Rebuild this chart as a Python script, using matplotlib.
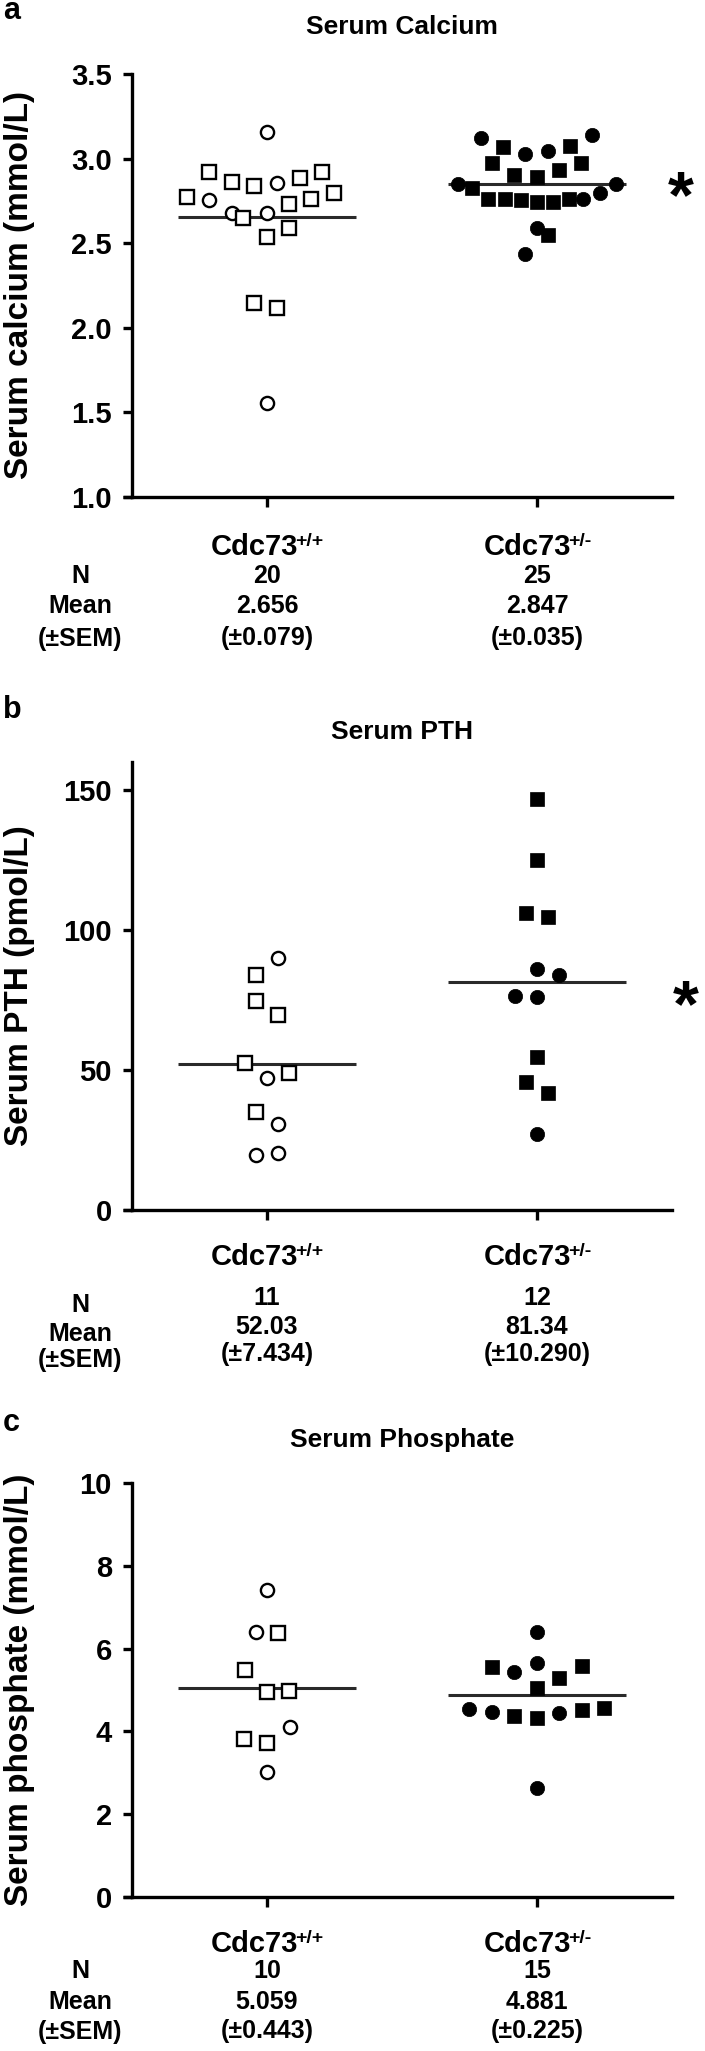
import matplotlib
matplotlib.use('Agg')
import matplotlib.pyplot as plt
import numpy as np

W, H = 705, 2051
plt.rcParams['font.family'] = ['Liberation Sans', 'DejaVu Sans']
plt.rcParams['font.weight'] = 'bold'

# ---------------- data ----------------
group_names = ['Cdc73', 'Cdc73']
group_sups = ['+/+', '+/-']
panel_letters = ['a', 'b', 'c']
panel_titles = ['Serum Calcium', 'Serum PTH', 'Serum Phosphate']
panel_ylabels = ['Serum calcium (mmol/L)', 'Serum PTH (pmol/L)', 'Serum phosphate (mmol/L)']
panel_ylims = [(1.0, 3.5), (0, 160), (0, 10)]
panel_yticks = [[1.0, 1.5, 2.0, 2.5, 3.0, 3.5], [0, 50, 100, 150], [0, 2, 4, 6, 8, 10]]
panel_ytick_labels = [['1.0', '1.5', '2.0', '2.5', '3.0', '3.5'], ['0', '50', '100', '150'],
                      ['0', '2', '4', '6', '8', '10']]
panel_signif = ['*', '*', '']

# Serum calcium
ca_wt_vals = [3.155, 2.923, 2.863, 2.838, 2.854, 2.884, 2.923, 2.775, 2.755, 2.799,
              2.763, 2.730, 2.680, 2.647, 2.677, 2.588, 2.535, 2.148, 2.115, 1.557]
ca_wt_shape = list('osssossso' 'ssso' 'sosssso')
ca_wt_dx = [0, -0.215, -0.13, -0.048, 0.037, 0.122, 0.204, -0.297, -0.216, 0.248,
            0.164, 0.081, -0.13, -0.089, 0, 0.081, 0, -0.05, 0.037, 0]
ca_het_vals = [3.120, 3.070, 3.027, 3.047, 3.076, 3.139, 2.972, 2.933, 2.972, 2.903,
               2.889, 2.850, 2.850, 2.824, 2.759, 2.759, 2.755, 2.745, 2.745, 2.759,
               2.759, 2.799, 2.588, 2.548, 2.436]
ca_het_shape = list('osoosossssso' 'osssssssooo' 'so')
ca_het_dx = [-0.208, -0.126, -0.043, 0.04, 0.122, 0.205, -0.167, 0.081, 0.164, -0.084,
             0, -0.294, 0.293, -0.241, -0.183, -0.117, -0.06, 0, 0.061, 0.119,
             0.172, 0.235, 0, 0.04, -0.043]

# Serum PTH
pth_wt_vals = [89.9, 83.9, 74.8, 69.6, 52.6, 49.0, 47.0, 35.1, 30.6, 19.6, 20.5]
pth_wt_shape = list('osssssosooo')
pth_wt_dx = [0.041, -0.041, -0.041, 0.041, -0.083, 0.083, 0, -0.041, 0.041, -0.041, 0.041]
pth_het_vals = [146.8, 125.0, 106.0, 104.8, 86.0, 83.9, 76.4, 76.0, 54.5, 45.8, 41.7, 27.1]
pth_het_shape = list('ssssoooossso')
pth_het_dx = [0, 0, -0.041, 0.041, 0, 0.083, -0.083, 0, 0, -0.041, 0.041, 0]

# Serum phosphate
pho_wt_vals = [7.42, 6.41, 6.37, 5.48, 4.96, 4.98, 4.11, 3.81, 3.71, 3.03]
pho_wt_shape = list('oossssosso')
pho_wt_dx = [0, -0.041, 0.041, -0.083, 0, 0.083, 0.087, -0.086, 0, 0]
pho_het_vals = [6.41, 5.56, 5.44, 5.66, 5.28, 5.58, 5.04, 4.53, 4.48, 4.37,
                4.32, 4.45, 4.52, 4.56, 2.63]
pho_het_shape = list('osooss' 'sooss' 'osso')
pho_het_dx = [0, -0.167, -0.084, 0, 0.083, 0.165, 0, -0.252, -0.167, -0.084,
              0, 0.083, 0.165, 0.248, 0]

panel_means = [[2.656, 2.847], [52.03, 81.34], [5.059, 4.881]]
panel_n = [['20', '25'], ['11', '12'], ['10', '15']]
panel_mean_txt = [['2.656', '2.847'], ['52.03', '81.34'], ['5.059', '4.881']]
panel_sem_txt = [['(±0.079)', '(±0.035)'], ['(±7.434)', '(±10.290)'], ['(±0.443)', '(±0.225)']]
row_labels = ['N', 'Mean', '(±SEM)']

panel_data = [
    [(ca_wt_vals, ca_wt_shape, ca_wt_dx), (ca_het_vals, ca_het_shape, ca_het_dx)],
    [(pth_wt_vals, pth_wt_shape, pth_wt_dx), (pth_het_vals, pth_het_shape, pth_het_dx)],
    [(pho_wt_vals, pho_wt_shape, pho_wt_dx), (pho_het_vals, pho_het_shape, pho_het_dx)],
]

# ---------------- layout (pixels) ----------------
AX_LEFT, AX_RIGHT = 132, 672
axes_top_bottom = [(74, 497), (762, 1210), (1483, 1897)]
letter_base = [19, 718, 1431]
title_base = [34, 739, 1447]
ylabel_center = [285, 986, 1690]
group_base = [555, 1265, 1952]
rows_base = [[583, 613, 645], [1305, 1334, 1361], [1978, 2009, 2038]]
rowlab_base = [[583, 613, 646], [1312, 1341, 1367], [1978, 2009, 2039]]
signif_center = [(681, 179), (686, 988)]


def fx(px):
    return px / W


def fy(py):
    return 1 - py / H


fig = plt.figure(figsize=(W / 100, H / 100), dpi=100)
renderer = fig.canvas.get_renderer()

group_x = [1, 2]
LW = 2.4

for p in range(3):
    top, bot = axes_top_bottom[p]
    ax = fig.add_axes([fx(AX_LEFT), fy(bot), (AX_RIGHT - AX_LEFT) / W, (bot - top) / H])
    ax.set_xlim(0.5, 2.5)
    ax.set_ylim(*panel_ylims[p])
    for s in ['top', 'right']:
        ax.spines[s].set_visible(False)
    for s in ['left', 'bottom']:
        ax.spines[s].set_linewidth(LW)
    ax.set_yticks(panel_yticks[p])
    ax.set_yticklabels(panel_ytick_labels[p], fontsize=21, fontweight='bold')
    ax.set_xticks(group_x)
    ax.set_xticklabels(['', ''])
    ax.tick_params(axis='y', length=6.5, width=LW, pad=8)
    ax.tick_params(axis='x', length=7, width=LW)
    # small left extension of x-axis (Prism style)
    ax.plot([0.466, 0.5], [panel_ylims[p][0]] * 2, color='black', lw=LW,
            clip_on=False, solid_capstyle='butt')

    for g, (vals, shapes, dxs) in enumerate(panel_data[p]):
        vals = np.asarray(vals)
        xs = group_x[g] + np.asarray(dxs)
        shapes = np.asarray(shapes)
        ax.plot([group_x[g] - 0.33, group_x[g] + 0.33], [panel_means[p][g]] * 2,
                color='#2a2a2a', lw=2.2, zorder=2, solid_capstyle='butt')
        for m in ['o', 's']:
            sel = shapes == m
            if g == 0:
                ax.plot(xs[sel], vals[sel], ls='none', marker=m,
                        ms=10.0 if m == 's' else 9.5, mfc='white', mec='black',
                        mew=1.7, zorder=3, clip_on=False)
            else:
                ax.plot(xs[sel], vals[sel], ls='none', marker=m,
                        ms=10.5 if m == 's' else 10.3, mfc='black', mec='black',
                        mew=0.5, zorder=3, clip_on=False)

    # panel letter and title
    fig.text(fx(3), fy(letter_base[p]), panel_letters[p], fontsize=22,
             fontweight='bold', ha='left', va='baseline')
    fig.text(fx((AX_LEFT + AX_RIGHT) / 2), fy(title_base[p]), panel_titles[p],
             fontsize=19, fontweight='bold', ha='center', va='baseline')
    fig.text(fx(20), fy(ylabel_center[p]), panel_ylabels[p], fontsize=24,
             fontweight='bold', rotation=90, ha='center', va='center')

    # group labels with superscripts
    for g in range(2):
        gx = AX_LEFT + (group_x[g] - 0.5) * (AX_RIGHT - AX_LEFT) / 2.0
        t_main = fig.text(0, fy(group_base[p]), group_names[g], fontsize=21,
                          fontweight='bold', ha='left', va='baseline')
        t_sup = fig.text(0, fy(group_base[p] - 9), group_sups[g], fontsize=14,
                         fontweight='bold', ha='left', va='baseline')
        w1 = t_main.get_window_extent(renderer).width
        w2 = t_sup.get_window_extent(renderer).width
        start = gx - (w1 + w2) / 2 + 2
        t_main.set_x(fx(start))
        t_sup.set_x(fx(start + w1 - 3))

        fig.text(fx(gx), fy(rows_base[p][0]), panel_n[p][g], fontsize=18,
                 fontweight='bold', ha='center', va='baseline')
        fig.text(fx(gx), fy(rows_base[p][1]), panel_mean_txt[p][g], fontsize=18,
                 fontweight='bold', ha='center', va='baseline')
        fig.text(fx(gx), fy(rows_base[p][2]), panel_sem_txt[p][g], fontsize=18,
                 fontweight='bold', ha='center', va='baseline')
    for r in range(3):
        fig.text(fx(80), fy(rowlab_base[p][r]), row_labels[r], fontsize=18,
                 fontweight='bold', ha='center', va='baseline')

    if panel_signif[p]:
        cx, cy = signif_center[p]
        fs = 48
        em_px = fs * 100 / 72
        fig.text(fx(cx), fy(cy + 0.57 * em_px), panel_signif[p], fontsize=fs,
                 fontweight='bold', ha='center', va='baseline')

fig.savefig('out.png', dpi=100)
